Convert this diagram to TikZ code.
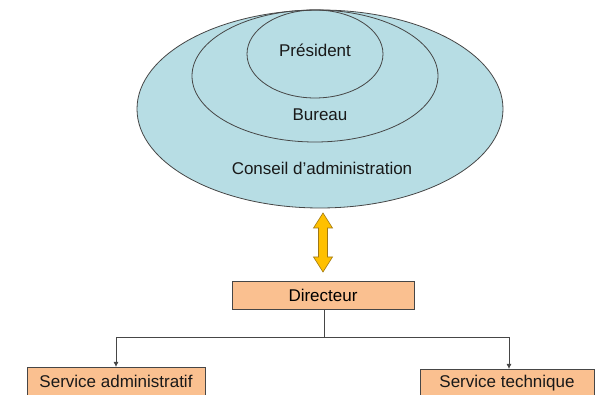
\documentclass[tikz,border=0pt]{standalone}
\usepackage{fontspec}
\setmainfont{Liberation Sans}
\usetikzlibrary{arrows.meta,calc}
\definecolor{ellfill}{RGB}{183,221,228}
\definecolor{boxfill}{RGB}{250,192,144}
\definecolor{arrfill}{RGB}{255,192,0}
\definecolor{arrline}{RGB}{160,120,20}
\definecolor{linegray}{RGB}{70,70,70}
\tikzset{
  ell/.style={draw=linegray, line width=0.8pt},
  lbl/.style={font=\fontsize{17}{20}\selectfont, text=black!90, inner sep=0pt},
  orgbox/.style={draw=linegray, line width=0.8pt, fill=boxfill, minimum height=28pt, inner sep=0pt, font=\fontsize{17}{20}\selectfont},
  conn/.style={draw=linegray, line width=0.8pt},
  tip/.style={-{Latex[length=5pt,width=5pt]}}
}
\begin{document}
\begin{tikzpicture}[x=1pt,y=1pt]
\useasboundingbox (0,0) rectangle (600,395);
\clip (0,0) rectangle (600,395);
% ellipses
\draw[ell, fill=ellfill] (320,286) ellipse [x radius=183, y radius=99];
\draw[ell] (315,319) ellipse [x radius=123, y radius=66];
\draw[ell] (315,341) ellipse [x radius=68, y radius=44];
\node[lbl] (pres) at (315,345) {Président};
\node[lbl] (bur) at (320,280) {Bureau};
\node[lbl] (ca) at (322,227) {Conseil d’administration};
% double arrow
\coordinate (atop) at (323,182);
\coordinate (abot) at (323,123);
\draw[draw=arrline, fill=arrfill, line width=0.6pt]
  (atop) -- ++(9.5,-15) -- ++(-5,0) -- ($(abot)+(4.5,15)$) -- ++(5,0) -- (abot)
  -- ++(-9.5,15) -- ++(5,0) -- ($(atop)+(-4.5,-15)$) -- ++(-5,0) -- cycle;
% boxes
\node[orgbox, minimum width=182pt] (dir) at (323,100) {Directeur};
\node[orgbox, minimum width=178pt, minimum height=44pt, anchor=north] (sa) at (116,28) {};
\node[lbl] (satxt) at (116,14) {Service administratif};
\node[orgbox, minimum width=174pt, minimum height=44pt, anchor=north] (st) at (507,26) {};
\node[lbl] (sttxt) at (507,12) {Service technique};
% connectors
\coordinate (j) at (324,58);
\coordinate (stin) at (509,26);
\draw[conn] (dir.south -| j) -- (j);
\draw[conn, tip] (j) -| (sa.north);
\draw[conn, tip] (j) -| (stin);
\end{tikzpicture}
\end{document}
